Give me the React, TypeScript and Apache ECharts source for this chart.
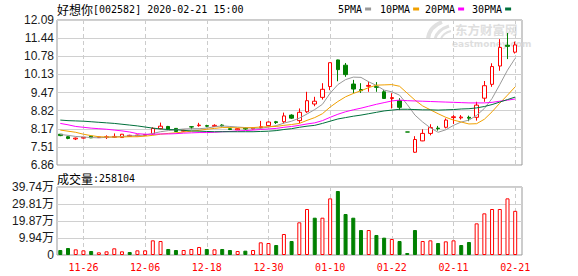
import React, { useEffect, useRef } from 'react';
import * as echarts from 'echarts';

const dates = ['2019-11-21','2019-11-22','2019-11-25','2019-11-26','2019-11-27','2019-11-28','2019-11-29','2019-12-02','2019-12-03','2019-12-04','2019-12-05','2019-12-06','2019-12-09','2019-12-10','2019-12-11','2019-12-12','2019-12-13','2019-12-16','2019-12-17','2019-12-18','2019-12-19','2019-12-20','2019-12-23','2019-12-24','2019-12-25','2019-12-26','2019-12-27','2019-12-30','2019-12-31','2020-01-02','2020-01-03','2020-01-06','2020-01-07','2020-01-08','2020-01-09','2020-01-10','2020-01-13','2020-01-14','2020-01-15','2020-01-16','2020-01-17','2020-01-20','2020-01-21','2020-01-22','2020-01-23','2020-02-03','2020-02-04','2020-02-05','2020-02-06','2020-02-07','2020-02-10','2020-02-11','2020-02-12','2020-02-13','2020-02-14','2020-02-17','2020-02-18','2020-02-19','2020-02-20','2020-02-21'];

const opens = [7.97,7.88,7.80,7.83,7.90,7.85,7.85,7.86,7.85,7.89, 7.91,7.93,7.98,8.17,8.25,8.18,8.08,8.24,8.28,8.28, 8.25,8.30,8.17,8.13,8.19,8.16,8.21,8.28,8.42,8.42, 8.66,8.46,8.78,9.06,9.30,9.69,10.65,10.46,9.78,9.58, 9.70,9.70,9.50,9.26,9.18,8.05,7.32,7.73,8.00,8.19, 8.22,8.57,8.56,8.58,8.58,9.27,9.77,10.43,11.18,10.93];
const closes = [7.92,7.82,7.83,7.86,7.84,7.87,7.88,7.89,7.97,7.93, 7.94,7.96,8.18,8.26,8.16,8.07,8.11,8.23,8.30,8.26, 8.29,8.27,8.14,8.17,8.16,8.19,8.24,8.41,8.39,8.63, 8.55,8.76,9.18,9.16,9.59,10.55,10.30,10.12,9.60,9.54, 9.73,9.66,9.26,9.29,8.94,8.05,7.78,8.00,8.21,8.17, 8.48,8.60,8.59,8.55,9.02,9.72,10.41,11.10,11.14,11.19];
const lows = [7.90,7.79,7.76,7.81,7.83,7.84,7.80,7.84,7.84,7.88, 7.90,7.92,7.96,8.15,8.14,8.05,8.06,8.15,8.24,8.22, 8.23,8.25,8.12,8.12,8.13,8.15,8.17,8.26,8.34,8.36, 8.52,8.36,8.74,8.98,9.22,9.56,9.88,10.04,9.45,9.46, 9.50,9.50,9.24,8.90,8.84,8.05,7.30,7.72,7.93,8.10, 8.18,8.34,8.50,8.44,8.46,9.14,9.68,10.26,10.68,10.88];
const highs = [7.98,7.90,7.85,7.87,7.91,7.88,7.93,8.00,7.98,7.95, 7.95,7.98,8.22,8.39,8.27,8.19,8.13,8.26,8.38,8.31, 8.33,8.33,8.18,8.19,8.22,8.21,8.45,8.43,8.45,8.75, 8.69,8.90,9.50,9.32,9.81,10.55,10.66,10.54,9.93,9.81, 9.87,9.85,9.56,9.45,9.27,8.05,7.90,8.15,8.33,8.27, 8.54,8.66,8.66,8.64,9.14,9.89,10.53,11.40,11.62,11.31];

const volumes = [29200,40900,33100,27300,23400,15600,21400,39000,21400,17500, 27300,27300,85700,81800,35100,29200,29200,35100,46800,35100, 33100,35100,29200,23400,25300,29200,74000,70100,58400,122700, 81800,191000,268800,218000,218000,331000,374000,239600,218000,146000, 146000,116900,101300,93500,81800,11700,146000,81800,85700,70100, 79900,85700,58400,76000,185000,243500,268800,268800,331000,258104];

const ma5 = [7.96,7.93,7.89,7.87,7.85,7.84,7.86,7.87,7.89,7.91, 7.92,7.94,8.00,8.06,8.10,8.13,8.16,8.17,8.17,8.19, 8.24,8.27,8.25,8.23,8.21,8.19,8.18,8.23,8.28,8.37, 8.44,8.55,8.70,8.86,9.05,9.45,9.76,9.94,10.03,10.02, 9.86,9.73,9.56,9.50,9.38,9.04,8.66,8.41,8.20,8.04, 8.13,8.29,8.41,8.48,8.65,8.90,9.26,9.76,10.28,10.71];
const ma10 = [8.12,8.08,8.04,7.97,7.92,7.88,7.87,7.87,7.87,7.88, 7.88,7.90,7.93,7.97,8.00,8.02,8.05,8.08,8.11,8.15, 8.18,8.21,8.21,8.20,8.20,8.21,8.23,8.24,8.25,8.29, 8.32,8.36,8.47,8.57,8.71,8.95,9.15,9.32,9.44,9.54, 9.65,9.74,9.75,9.76,9.70,9.45,9.20,8.99,8.85,8.71, 8.58,8.48,8.41,8.34,8.35,8.51,8.78,9.09,9.38,9.68];
const ma20 = [8.36,8.31,8.25,8.22,8.19,8.17,8.15,8.12,8.09,8.05, 7.99,7.97,7.97,7.98,7.98,7.99,8.01,8.02,8.03,8.03, 8.04,8.06,8.07,8.09,8.10,8.12,8.14,8.16,8.18,8.22, 8.25,8.29,8.34,8.38,8.46,8.58,8.69,8.78,8.85,8.91, 8.98,9.05,9.11,9.17,9.20,9.18,9.17,9.16,9.15,9.14, 9.13,9.12,9.11,9.10,9.10,9.10,9.12,9.16,9.20,9.24];
const ma30 = [8.48,8.46,8.45,8.44,8.42,8.40,8.38,8.36,8.33,8.30, 8.27,8.23,8.19,8.16,8.14,8.13,8.11,8.09,8.08,8.07, 8.06,8.06,8.06,8.06,8.06,8.06,8.07,8.08,8.10,8.14, 8.17,8.22,8.26,8.29,8.36,8.44,8.52,8.57,8.62,8.66, 8.71,8.76,8.81,8.84,8.87,8.87,8.86,8.85,8.85,8.84, 8.85,8.86,8.88,8.89,8.92,8.97,9.04,9.13,9.22,9.31];

const dateTickLabels = ['11-26','12-06','12-18','12-30','01-10','01-22','02-11','02-21'];
const priceMin = 6.86;
const priceMax = 12.09;
const priceTickLabels = ['6.86','7.51','8.17','8.82','9.47','10.13','10.78','11.44','12.09'];
const volMax = 397440;
const volTickLabels = ['0','9.94万','19.87万','29.81万','39.74万'];

const maNames = ['5PMA','10PMA','20PMA','30PMA'];
const maColors = ['#999999','#f0a000','#ff00ff','#00703c'];
const stockTitle = '好想你';
const stockInfo = '[002582] 2020-02-21 15:00';

const UP = '#ff0000';
const DOWN = '#008000';

export default function App() {
  const ref = useRef<HTMLDivElement>(null);
  useEffect(() => {
    document.body.style.margin = '0';
    const chart = echarts.init(ref.current!, null, { renderer: 'svg' });
    const priceInterval = (priceMax - priceMin) / 8;
    const volInterval = volMax / 4;
    const isLabelIdx = (idx: number) => dateTickLabels.includes(dates[idx].slice(5));
    const gx = { left: 60.3, width: 454.9 };
    const frameX = { left: 57, width: 465 };
    const candleData = opens.map((o, i) => [o, closes[i], lows[i], highs[i]]);
    const volData = volumes.map((v, i) => {
      const up = i === 0 ? closes[0] >= opens[0] : closes[i] >= closes[i - 1];
      return {
        value: v,
        itemStyle: up
          ? { color: '#ffffff', borderColor: UP, borderWidth: 1 }
          : { color: DOWN, borderColor: DOWN, borderWidth: 1 },
      };
    });
    const mas = [ma5, ma10, ma20, ma30];
    const catAxisCommon = {
      type: 'category',
      data: dates,
      boundaryGap: false,
      axisLine: { show: false },
      axisTick: { show: false },
      splitLine: {
        show: true,
        interval: (idx: number) => isLabelIdx(idx),
        lineStyle: { color: '#cccccc', type: [4, 3], width: 1 },
      },
    };
    const legendStarts = [338, 380, 425, 472];
    const legendGraphics: any[] = [];
    maNames.forEach((n, k) => {
      legendGraphics.push({
        type: 'text', x: legendStarts[k], y: 9, silent: true,
        style: { text: n, fill: '#000', font: '10px "DejaVu Sans Mono"', verticalAlign: 'middle', align: 'left' },
      });
      legendGraphics.push({
        type: 'rect', silent: true,
        shape: { x: legendStarts[k] + n.length * 6.02 + 3, y: 7.5, width: 6, height: 3 },
        style: { fill: maColors[k] },
      });
    });

    const option: any = {
      animation: false,
      grid: [
        { left: gx.left, width: gx.width, top: 20, height: 145, outerBoundsMode: 'none' },
        { left: gx.left, width: gx.width, top: 187, height: 68, outerBoundsMode: 'none' },
        { left: frameX.left, width: frameX.width, top: 20, height: 145, show: true, borderColor: '#999999', borderWidth: 1, backgroundColor: 'transparent', outerBoundsMode: 'none' },
        { left: frameX.left, width: frameX.width, top: 187, height: 68, show: true, borderColor: '#999999', borderWidth: 1, backgroundColor: 'transparent', outerBoundsMode: 'none' },
      ],
      xAxis: [
        { ...catAxisCommon, gridIndex: 0, axisLabel: { show: false } },
        {
          ...catAxisCommon, gridIndex: 1,
          axisLabel: {
            show: true,
            interval: (idx: number) => isLabelIdx(idx),
            formatter: (v: string) => v.slice(5),
            color: '#ff0000',
            fontFamily: 'DejaVu Sans Mono',
            fontSize: 10,
            margin: 7,
          },
        },
        { type: 'value', gridIndex: 2, min: 0, max: 1, show: false },
        { type: 'value', gridIndex: 3, min: 0, max: 1, show: false },
      ],
      yAxis: [
        { type: 'value', gridIndex: 0, min: priceMin, max: priceMax, show: false },
        { type: 'value', gridIndex: 1, min: 0, max: volMax, show: false },
        {
          type: 'value', gridIndex: 2, min: priceMin, max: priceMax, interval: priceInterval,
          axisLine: { show: false }, axisTick: { show: false },
          splitLine: { show: true, lineStyle: { color: '#d0d0d0', width: 1 } },
          axisLabel: {
            formatter: (v: number) => priceTickLabels[Math.round((v - priceMin) / priceInterval)],
            color: '#1a1a1a', fontFamily: 'Liberation Sans', fontSize: 12, margin: 3,
          },
        },
        {
          type: 'value', gridIndex: 3, min: 0, max: volMax, interval: volInterval,
          axisLine: { show: false }, axisTick: { show: false },
          splitLine: { show: true, lineStyle: { color: '#d0d0d0', width: 1 } },
          axisLabel: {
            formatter: (v: number) => volTickLabels[Math.round(v / volInterval)],
            color: '#1a1a1a', fontFamily: 'Liberation Sans, "Noto Sans CJK SC"', fontSize: 12, margin: 3,
          },
        },
      ],
      series: [
        {
          type: 'candlestick', xAxisIndex: 0, yAxisIndex: 0, data: candleData,
          barWidth: 4, clip: false, silent: true, z: 3,
          itemStyle: { color: '#ffffff', color0: DOWN, borderColor: UP, borderColor0: DOWN, borderWidth: 1 },
        },
        ...mas.map((m, k) => ({
          type: 'line', name: maNames[k], xAxisIndex: 0, yAxisIndex: 0, data: m,
          symbol: 'none', silent: true, z: 4,
          lineStyle: { color: maColors[k], width: 1 },
        })),
        {
          type: 'bar', xAxisIndex: 1, yAxisIndex: 1, data: volData,
          barWidth: 4, clip: false, silent: true, z: 3,
        },
      ],
      graphic: [
        {
          type: 'text', x: 57, y: 3, silent: true,
          style: {
            text: '{c|' + stockTitle + '}{a|' + stockInfo + '}',
            verticalAlign: 'top',
            rich: {
              c: { fill: '#000', fontSize: 12, fontFamily: '"Noto Sans CJK SC"' },
              a: { fill: '#000', fontSize: 10, fontFamily: '"DejaVu Sans Mono"' },
            },
          },
        },
        ...legendGraphics,
        {
          type: 'text', x: 57, y: 172, silent: true,
          style: {
            text: '{c|成交量}{a|:' + String(volumes[volumes.length - 1]) + '}',
            verticalAlign: 'top',
            rich: {
              c: { fill: '#000', fontSize: 12, fontFamily: '"Noto Sans CJK SC"' },
              a: { fill: '#000', fontSize: 10, fontFamily: '"DejaVu Sans Mono"' },
            },
          },
        },
        {
          type: 'group', silent: true, z: 0,
          children: [
            { type: 'bezierCurve', shape: { x1: 428, y1: 39, cpx1: 429, cpy1: 27, x2: 442, y2: 22 }, style: { stroke: '#e0e0e0', lineWidth: 4, fill: 'none' } },
            { type: 'bezierCurve', shape: { x1: 435, y1: 39, cpx1: 437, cpy1: 30, x2: 449, y2: 26 }, style: { stroke: '#e0e0e0', lineWidth: 3, fill: 'none' } },
            { type: 'bezierCurve', shape: { x1: 441, y1: 39, cpx1: 443, cpy1: 33, x2: 451, y2: 31 }, style: { stroke: '#e0e0e0', lineWidth: 2, fill: 'none' } },
            { type: 'text', x: 455, y: 29.5, style: { text: '东方财富网', fill: '#dedede', font: 'bold 12.5px "Noto Sans CJK SC"', verticalAlign: 'middle', lineHeight: 12 } },
            { type: 'text', x: 452, y: 44, style: { text: 'eastmoney.com', fill: '#dedede', font: 'bold 9px "DejaVu Sans"', verticalAlign: 'middle', lineHeight: 8 } },
          ],
        },
      ],
    };
    chart.setOption(option);
    return () => chart.dispose();
  }, []);
  return <div ref={ref} style={{ width: 578, height: 276 }} />;
}
